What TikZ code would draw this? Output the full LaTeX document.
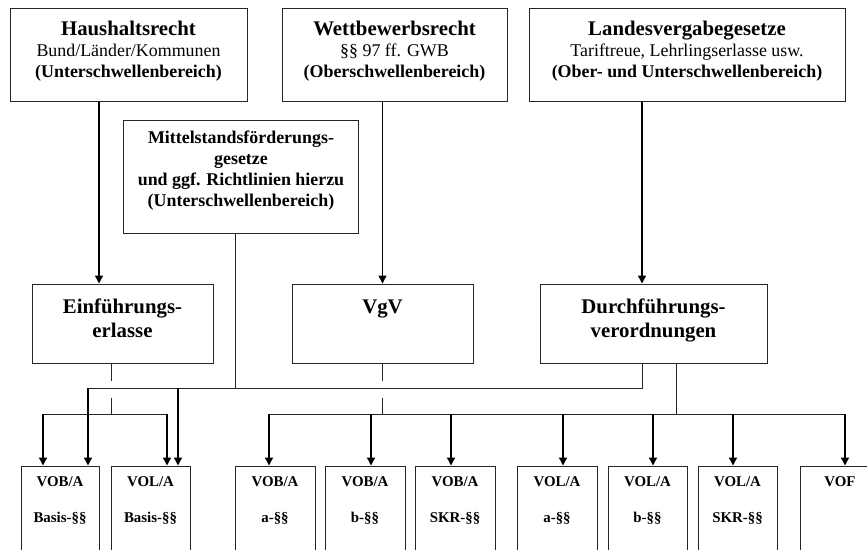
\documentclass[tikz,border=0pt]{standalone}
\usepackage{fontspec}
\setmainfont{Liberation Serif}
\usetikzlibrary{arrows.meta}
\begin{document}
\begin{tikzpicture}[x=1pt,y=-1pt,
  box/.style={draw=black!85, line width=1pt, rectangle, inner sep=0pt},
  bus/.style={draw=black!85, line width=1pt},
  arr/.style={draw=black, line width=1.4pt, -{Triangle[width=8pt,length=8pt]}},
  dsh/.style={bus, dash pattern=on 17.5pt off 17pt},
  txt/.style={align=center, inner sep=0pt, anchor=north, text=black},
  toptxt/.style={txt, font=\fontsize{17.9}{21}\selectfont},
  midtxt/.style={txt, font=\fontsize{20.8}{24}\selectfont\bfseries},
  bottxt/.style={txt, font=\fontsize{14.9}{36}\selectfont\bfseries},
  bottombox/.style={box, minimum width=79pt, minimum height=100pt},
]
\useasboundingbox (0,0) rectangle (867,549);

% top boxes
\node[box, minimum width=237pt, minimum height=93pt] (hh) at (128.5,54.5) {};
\node[toptxt] (hht) at (128.5,21) {{\fontsize{20.8}{21}\selectfont\bfseries Haushaltsrecht}\\Bund/Länder/Kommunen\\\textbf{(Unterschwellenbereich)}};
\node[box, minimum width=225pt, minimum height=93pt] (wb) at (394.5,54.5) {};
\node[toptxt] (wbt) at (394.5,21) {{\fontsize{20.8}{21}\selectfont\bfseries Wettbewerbsrecht}\\§§ 97 ff. GWB\\\textbf{(Oberschwellenbereich)}};
\node[box, minimum width=316pt, minimum height=93pt] (lv) at (687,54.5) {};
\node[toptxt] (lvt) at (687,21) {{\fontsize{20.8}{21}\selectfont\bfseries Landesvergabegesetze}\\Tariftreue, Lehrlingserlasse usw.\\\textbf{(Ober- und Unterschwellenbereich)}};

% Mittelstand box
\node[box, minimum width=235pt, minimum height=113pt] (ms) at (240.5,176.5) {};
\node[toptxt, font=\fontsize{17.9}{21}\selectfont\bfseries] (mst) at (241,131) {Mittelstandsförderungs-\\gesetze\\und ggf. Richtlinien hierzu\\(Unterschwellenbereich)};

% middle boxes
\node[box, minimum width=181pt, minimum height=79pt] (ef) at (122.5,323.5) {};
\node[midtxt] (eft) at (122.5,299) {Einführungs-\\erlasse};
\node[box, minimum width=181pt, minimum height=79pt] (vgv) at (382.5,323.5) {};
\node[midtxt] (vgvt) at (382.5,299.2) {VgV};
\node[box, minimum width=227pt, minimum height=79pt] (df) at (653.5,323.5) {};
\node[midtxt] (dft) at (653.5,299) {Durchführungs-\\verordnungen};

% bottom boxes (cut off by the lower edge)
\begin{scope}
\clip (0,0) rectangle (867,549);
\node[bottombox, minimum width=78pt] (b1) at (60,516) {};
\node[bottombox] (b2) at (150.5,516) {};
\node[bottombox, minimum width=80pt] (b3) at (275,516) {};
\node[bottombox, minimum width=80pt] (b4) at (365,516) {};
\node[bottombox, minimum width=80pt] (b5) at (455,516) {};
\node[bottombox, minimum width=80pt] (b6) at (557,516) {};
\node[bottombox] (b7) at (647.5,516) {};
\node[bottombox] (b8) at (737.5,516) {};
\node[bottombox, minimum width=80pt] (b9) at (840,516) {};
\end{scope}
\node[bottxt] (t1) at (60,476.4) {VOB/A\\Basis-§§};
\node[bottxt] (t2) at (150.5,476.4) {VOL/A\\Basis-§§};
\node[bottxt] (t3) at (275,476.4) {VOB/A\\a-§§};
\node[bottxt] (t4) at (365,476.4) {VOB/A\\b-§§};
\node[bottxt] (t5) at (455,476.4) {VOB/A\\SKR-§§};
\node[bottxt] (t6) at (557,476.4) {VOL/A\\a-§§};
\node[bottxt] (t7) at (647.5,476.4) {VOL/A\\b-§§};
\node[bottxt] (t8) at (737.5,476.4) {VOL/A\\SKR-§§};
\node[bottxt] (t9) at (840,476.4) {VOF};

% junction coordinates
\coordinate (xa) at (99,0);
\coordinate (xc) at (642,0);
\coordinate (u1) at (88,388);
\coordinate (u2) at (178,388);
\coordinate (u3) at (235,388);
\coordinate (u4) at (642,388);
\coordinate (l1) at (43,414);
\coordinate (l2) at (111,414);
\coordinate (l3) at (167,414);
\coordinate (r1) at (269,414);
\coordinate (r2) at (371,414);
\coordinate (r3) at (382.5,414);
\coordinate (r4) at (451,414);
\coordinate (r5) at (563,414);
\coordinate (r6) at (653,414);
\coordinate (r7) at (676,414);
\coordinate (r8) at (733,414);
\coordinate (r9) at (845,414);

% top -> middle
\draw[arr] (hh.south -| xa) -- (ef.north -| xa);
\draw[arr] (wb.south -| vgv.north) -- (vgv.north);
\draw[arr] (lv.south -| xc) -- (df.north -| xc);

% upper bus
\draw[bus] (ms.south -| u3) -- (u3);
\draw[bus] (df.south -| u4) -- (u4) -- (u1);
\draw[arr] (u1) -- (b1.north -| u1);
\draw[arr] (u2) -- (b2.north -| u2);

% lower left bus
\draw[dsh] (ef.south -| l2) -- (l2);
\draw[bus] (l1) -- (l3);
\draw[arr] (l1) -- (b1.north -| l1);
\draw[arr] (l3) -- (b2.north -| l3);

% lower right bus
\draw[dsh] (vgv.south) -- (r3);
\draw[bus] (df.south -| r7) -- (r7);
\draw[bus] (r1) -- (r9);
\draw[arr] (r1) -- (b3.north -| r1);
\draw[arr] (r2) -- (b4.north -| r2);
\draw[arr] (r4) -- (b5.north -| r4);
\draw[arr] (r5) -- (b6.north -| r5);
\draw[arr] (r6) -- (b7.north -| r6);
\draw[arr] (r8) -- (b8.north -| r8);
\draw[arr] (r9) -- (b9.north -| r9);
\end{tikzpicture}
\end{document}
